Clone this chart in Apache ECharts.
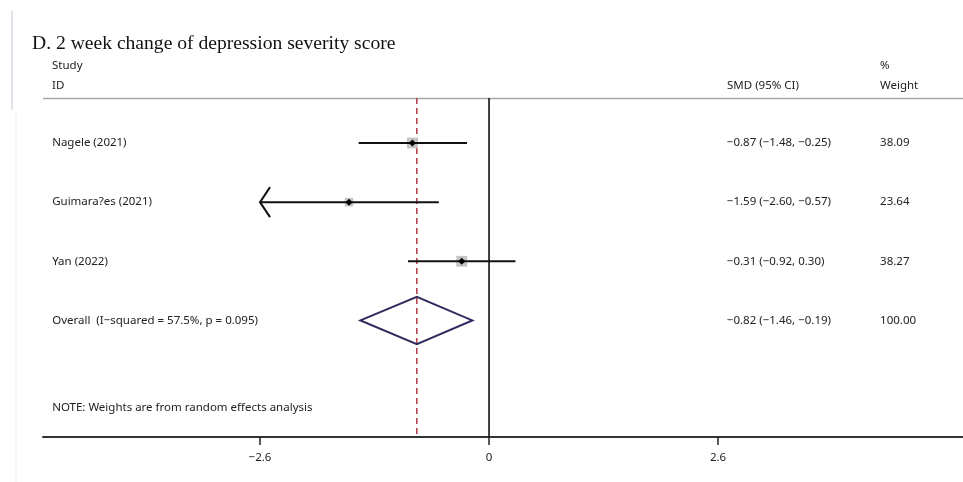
<!DOCTYPE html>
<html><head><meta charset="utf-8">
<script src="https://cdn.jsdelivr.net/npm/echarts@6/dist/echarts.min.js"></script>
<style>html,body{margin:0;padding:0;background:#fff}#c{width:963px;height:482px}</style>
</head><body><div id="c"></div>
<script>
// ---- data ----
const titleText = 'D. 2 week change of depression severity score';
const studies = ['Nagele (2021)', 'Guimara?es (2021)', 'Yan (2022)'];
const est = [-0.87, -1.59, -0.31];
const lower = [-1.48, -2.60, -0.92];
const upper = [-0.25, -0.57, 0.30];
const weights = [38.09, 23.64, 38.27];
const ciText = ['\u22120.87 (\u22121.48, \u22120.25)', '\u22121.59 (\u22122.60, \u22120.57)', '\u22120.31 (\u22120.92, 0.30)'];
const weightText = ['38.09', '23.64', '38.27'];
const overallLabel = 'Overall  (I\u2212squared = 57.5%, p = 0.095)';
const overall = { est: -0.82, lower: -1.46, upper: -0.19, ciText: '\u22120.82 (\u22121.46, \u22120.19)', weightText: '100.00' };
const noteText = 'NOTE: Weights are from random effects analysis';
const tickValues = [-2.6, 0, 2.6];
const clipMin = -2.6;

// ---- layout (data-space column positions) ----
const xMin = -5.064, xMax = 5.381;
const yMin = 0.24, yMax = 5.97;
const colStudy = -4.96, colCI = 2.70, colW = 4.44;
const rowNote = 5.48;

const chart = echarts.init(document.getElementById('c'), null, { renderer: 'canvas' });
const sansFont = '"Noto Sans", sans-serif';

const rows = studies.map((s, i) => ({ value: [est[i], i + 1, lower[i], upper[i], weights[i]] }));

const textItems = [];
studies.forEach((s, i) => {
  textItems.push({ value: [colStudy, i + 1], t: s });
  textItems.push({ value: [colCI, i + 1], t: ciText[i] });
  textItems.push({ value: [colW, i + 1], t: weightText[i] });
});
textItems.push({ value: [colStudy, 4], t: overallLabel });
textItems.push({ value: [colCI, 4], t: overall.ciText });
textItems.push({ value: [colW, 4], t: overall.weightText });
textItems.push({ value: [colStudy, rowNote], t: noteText });

const option = {
  animation: false,
  backgroundColor: '#fff',
  grid: { left: 43, right: 0, top: 98, bottom: 45, containLabel: false },
  xAxis: {
    type: 'value', min: xMin, max: xMax,
    splitLine: { show: false },
    axisLine: { show: true, onZero: false, lineStyle: { color: '#333', width: 2 } },
    axisTick: { show: true, customValues: tickValues, length: 8, lineStyle: { color: '#222', width: 1.5 } },
    axisLabel: {
      show: true, customValues: tickValues, margin: 15,
      fontFamily: sansFont, fontSize: 11.5, color: '#222',
      formatter: v => (v < 0 ? '\u2212' : '') + Math.abs(v).toString()
    }
  },
  yAxis: {
    type: 'value', min: yMin, max: yMax, inverse: true, show: false
  },
  graphic: [
    { type: 'line', shape: { x1: 12, y1: 11, x2: 12, y2: 110 }, style: { stroke: '#dfe4ea', lineWidth: 2 } },
    { type: 'line', shape: { x1: 16, y1: 110, x2: 16, y2: 482 }, style: { stroke: '#f0f2f4', lineWidth: 1.5 } },
    { type: 'text', left: 32, top: 34, style: { text: titleText, font: '19.6px "Liberation Serif", "DejaVu Serif", serif', fill: '#111' } },
    { type: 'text', left: 52, top: 60, style: { text: 'Study', font: '11.5px ' + sansFont, fill: '#222' } },
    { type: 'text', left: 52, top: 80, style: { text: 'ID', font: '11.5px ' + sansFont, fill: '#222' } },
    { type: 'text', left: 727, top: 80, style: { text: 'SMD (95% CI)', font: '11.5px ' + sansFont, fill: '#222' } },
    { type: 'text', left: 880, top: 60, style: { text: '%', font: '11.5px ' + sansFont, fill: '#222' } },
    { type: 'text', left: 880, top: 80, style: { text: 'Weight', font: '11.5px ' + sansFont, fill: '#222' } },
    { type: 'line', shape: { x1: 43, y1: 98.5, x2: 963, y2: 98.5 }, style: { stroke: '#a8a8a8', lineWidth: 1.5 } }
  ],
  series: [
    { // zero line and overall dashed line
      type: 'custom', data: [{ value: [0, 0] }],
      renderItem: (params, api) => {
        const zTop = api.coord([0, yMin]), zBot = api.coord([0, yMax]);
        const oTop = api.coord([overall.est, yMin]), oBot = api.coord([overall.est, yMax]);
        return { type: 'group', children: [
          { type: 'line', shape: { x1: zTop[0], y1: zTop[1], x2: zBot[0], y2: zBot[1] }, style: { stroke: '#111', lineWidth: 1.6 } },
          { type: 'line', shape: { x1: oTop[0], y1: oTop[1], x2: oBot[0], y2: oBot[1] }, style: { stroke: '#b23a48', lineWidth: 1.5, lineDash: [6, 4] } }
        ] };
      }, z: 1
    },
    { // study CI lines, weight boxes, points
      type: 'custom', data: rows, z: 3,
      renderItem: (params, api) => {
        const e = api.value(0), r = api.value(1), lo = api.value(2), hi = api.value(3), w = api.value(4);
        const clipped = lo <= clipMin;
        const pLo = api.coord([clipped ? clipMin : lo, r]);
        const pHi = api.coord([hi, r]);
        const pE = api.coord([e, r]);
        const side = 1.75 * Math.sqrt(w);
        const ch = [
          { type: 'rect', shape: { x: pE[0] - side / 2, y: pE[1] - side / 2, width: side, height: side }, style: { fill: '#c4c4c4' } },
          { type: 'line', shape: { x1: pLo[0], y1: pLo[1], x2: pHi[0], y2: pHi[1] }, style: { stroke: '#111', lineWidth: 2 } },
          { type: 'polygon', shape: { points: [[pE[0] - 3.5, pE[1]], [pE[0], pE[1] - 3.5], [pE[0] + 3.5, pE[1]], [pE[0], pE[1] + 3.5]] }, style: { fill: '#000' } }
        ];
        if (clipped) {
          ch.push({ type: 'polyline', shape: { points: [[pLo[0] + 10, pLo[1] - 15], [pLo[0], pLo[1]], [pLo[0] + 10, pLo[1] + 15]] }, style: { stroke: '#111', lineWidth: 2, fill: null } });
        }
        return { type: 'group', children: ch };
      }
    },
    { // overall diamond
      type: 'custom', data: [{ value: [overall.est, 4, overall.lower, overall.upper] }], z: 3,
      renderItem: (params, api) => {
        const r = api.value(1);
        const c = api.coord([api.value(0), r]);
        const l = api.coord([api.value(2), r]);
        const h = api.coord([api.value(3), r]);
        const top = api.coord([api.value(0), r - 0.4]);
        const bot = api.coord([api.value(0), r + 0.4]);
        return { type: 'polygon', shape: { points: [[l[0], l[1]], [top[0], top[1]], [h[0], h[1]], [bot[0], bot[1]]] }, style: { fill: null, stroke: '#2e2b5f', lineWidth: 2 } };
      }
    },
    { // texts
      type: 'custom', data: textItems, z: 4,
      renderItem: (params, api) => {
        const p = api.coord([api.value(0), api.value(1)]);
        return { type: 'text', x: p[0], y: p[1], style: { text: textItems[params.dataIndex].t, font: '11.5px ' + sansFont, fill: '#222', textVerticalAlign: 'middle', verticalAlign: 'middle' } };
      }
    }
  ]
};
chart.setOption(option);
</script></body></html>
